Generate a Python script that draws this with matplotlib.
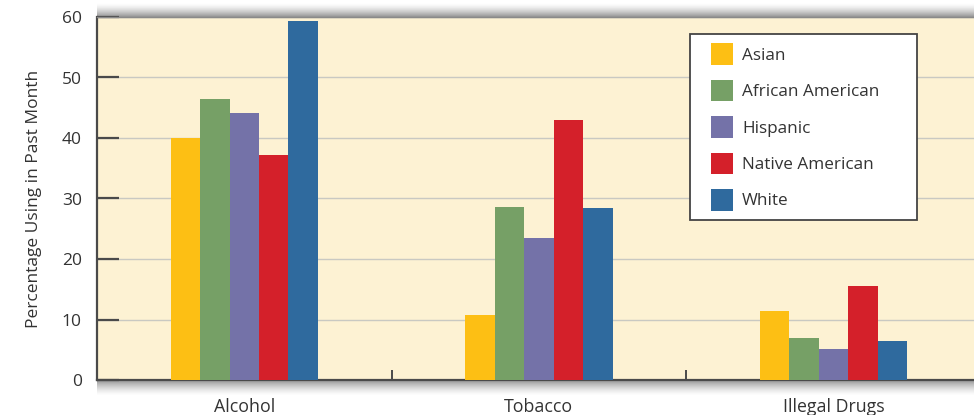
import numpy as np
import matplotlib.pyplot as plt
from matplotlib.patches import Patch, Rectangle
from matplotlib.legend_handler import HandlerPatch

plt.rcParams['font.family'] = ['Open Sans', 'DejaVu Sans']

categories = ['Alcohol', 'Tobacco', 'Illegal Drugs']
groups = ['Asian', 'African American', 'Hispanic', 'Native American', 'White']
asian = [40.0, 10.7, 11.4]
african_american = [46.5, 28.6, 7.0]
hispanic = [44.1, 23.4, 5.1]
native_american = [37.2, 42.9, 15.6]
white = [59.4, 28.5, 6.5]
colors = ['#FDBF14', '#76A066', '#7472A8', '#D4202A', '#2F6A9E']

series = [asian, african_american, hispanic, native_american, white]

fig = plt.figure(figsize=(9.74, 4.15), dpi=100)
ax = fig.add_axes([97 / 974, 35 / 415, 1 - 97 / 974, 363 / 415])
ax.set_facecolor('#FDF2D3')

x = np.arange(len(categories))
w = 0.1
for i, (vals, c) in enumerate(zip(series, colors)):
    ax.bar(x + (i - 2) * w, vals, w, color=c, zorder=3)

ax.set_xlim(-0.5, 2.477)
ax.set_ylim(0, 60)
ax.set_yticks(range(0, 61, 10))
ax.yaxis.grid(True, color='#C9C9C2', linewidth=1.0, zorder=1)
ax.tick_params(axis='y', direction='in', length=16, width=1.6, color='#4a4a4a',
               labelsize=12.5, pad=11, labelcolor='#333333')

ax.set_xticks([0.5, 1.5])
ax.set_xticklabels([])
ax.tick_params(axis='x', which='major', direction='in', length=7, width=1.4, color='#4a4a4a')
ax.set_xticks(x, minor=True)
ax.set_xticklabels(categories, minor=True, fontsize=12.8, color='#333333')
ax.tick_params(axis='x', which='minor', length=0, pad=13)

for s in ['left', 'bottom']:
    ax.spines[s].set_color('#4a4a4a')
    ax.spines[s].set_linewidth(1.6)
ax.spines['right'].set_visible(False)
ax.spines['top'].set_color('#8a8a8a')
ax.spines['top'].set_linewidth(1.0)

ax.set_ylabel('Percentage Using in Past Month', fontsize=12.5, color='#333333', labelpad=14)

# soft shadows above and below the plot area (dark next to the axes, fading out)
fade = np.zeros((50, 1, 4))
fade[..., :3] = 0.35
fade[:, 0, 3] = np.linspace(0.75, 0, 50) ** 1.5
top = fig.add_axes([97 / 974, 398 / 415, 1 - 97 / 974, 14 / 415], zorder=-1)
top.imshow(fade, aspect='auto', origin='lower')
top.axis('off')
bot = fig.add_axes([97 / 974, 19 / 415, 1 - 97 / 974, 16 / 415], zorder=-1)
bot.imshow(fade, aspect='auto', origin='upper')
bot.axis('off')


# square swatch pushed to the right end of the handle box
def square(legend, orig_handle, xdescent, ydescent, width, height, fontsize):
    return Rectangle((width - height - xdescent, -ydescent), height, height)


handles = [Patch(facecolor=c, label=g) for c, g in zip(colors, groups)]
leg = ax.legend(handles=handles, loc='upper left',
                bbox_to_anchor=(0.676, 0.446, 0.259, 0.507), mode='expand',
                fontsize=12.3, frameon=True, fancybox=False, borderaxespad=0,
                handlelength=1.95, handleheight=1.55, labelspacing=0.88,
                handletextpad=0.55, borderpad=0.55,
                handler_map={Patch: HandlerPatch(patch_func=square)})
leg.get_frame().set_edgecolor('#444444')
leg.get_frame().set_linewidth(1.3)
leg.get_frame().set_facecolor('white')
leg.get_frame().set_alpha(1)
for t in leg.get_texts():
    t.set_color('#333333')

fig.savefig('out.png', dpi=100)
